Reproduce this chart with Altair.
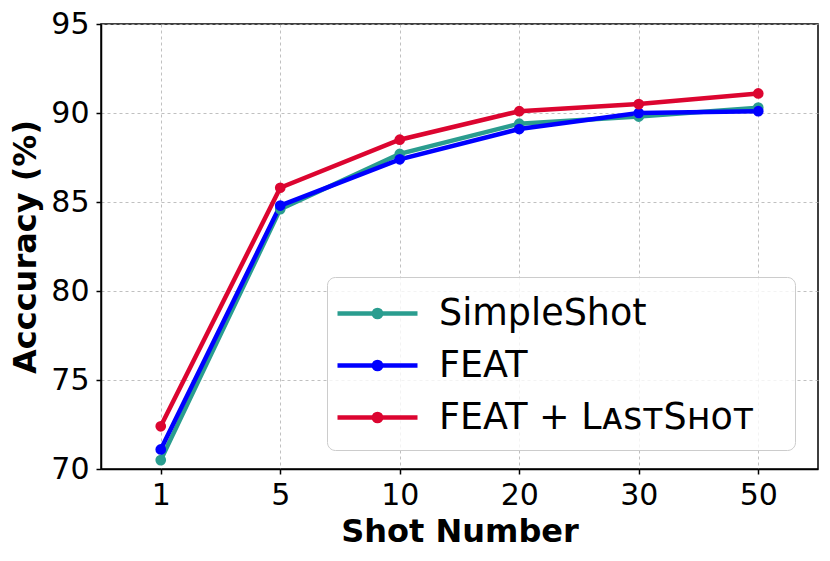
import altair as alt
import pandas as pd

shots = ["1", "5", "10", "20", "30", "50"]
simpleshot = [70.5, 84.6, 87.7, 89.4, 89.8, 90.3]
feat = [71.1, 84.8, 87.4, 89.1, 90.0, 90.1]
feat_lastshot = [72.4, 85.8, 88.5, 90.1, 90.5, 91.1]
methods = ["SimpleShot", "FEAT", "FEAT + LᴀꜱᴛSʜᴏᴛ"]
colors = ["#2a9d8f", "#0000ff", "#dc0530"]

rows = []
for m, vals in zip(methods, [simpleshot, feat, feat_lastshot]):
    for s, v in zip(shots, vals):
        rows.append({"shot": s, "acc": v, "method": m})
df = pd.DataFrame(rows)

scale = alt.Scale(domain=methods, range=colors)
x = alt.X("shot:O", sort=shots, scale=alt.Scale(type="point", padding=0.5),
          title="Shot Number",
          axis=alt.Axis(labelAngle=0, grid=True))
y = alt.Y("acc:Q", scale=alt.Scale(domain=[70, 95], nice=False, zero=False),
          title="Acccuracy (%)",
          axis=alt.Axis(values=[70, 75, 80, 85, 90, 95]))

sym = "M-2,0H2M-0.18,0a0.18,0.18 0 1,0 0.36,0a0.18,0.18 0 1,0 -0.36,0"
leg = alt.Legend(title=None, orient="none", legendX=226, legendY=253,
                 symbolType=sym, symbolSize=1600, symbolStrokeWidth=4.5,
                 symbolOffset=14, labelOffset=39,
                 labelFontSize=36.5, labelFont="DejaVu Sans", labelColor="black",
                 labelExpr="datum.label + '\u2800'",
                 rowPadding=11, padding=14, cornerRadius=8,
                 strokeColor="#cccccc", fillColor="rgba(255,255,255,0.8)",
                 labelLimit=500)

lines = alt.Chart(df).mark_line(
    strokeWidth=4.5,
    point=alt.OverlayMarkDef(filled=True, size=115, opacity=1),
).encode(
    x=x, y=y,
    color=alt.Color("method:N", scale=scale, sort=methods, legend=leg),
)

chart = lines.properties(
    width=717, height=445,
    autosize=alt.AutoSizeParams(type="none"),
    padding={"left": 93, "top": 16, "right": 4, "bottom": 84},
).configure_view(
    stroke="black", strokeWidth=1.5
).configure_axis(
    labelFont="DejaVu Sans", labelFontSize=30, labelColor="black",
    titleFont="DejaVu Sans", titleFontSize=32, titleFontWeight="bold", titleColor="black",
    domainColor="black", domainWidth=1.5, tickColor="black", tickSize=5, tickWidth=1.5,
    gridColor="#b0b0b0", gridDash=[3, 3], gridWidth=0.8,
).configure_axisY(titlePadding=8, labelPadding=7).configure_axisX(titlePadding=6, labelPadding=6)

chart.save("out.html", embed_options={"renderer": "svg", "actions": False})
